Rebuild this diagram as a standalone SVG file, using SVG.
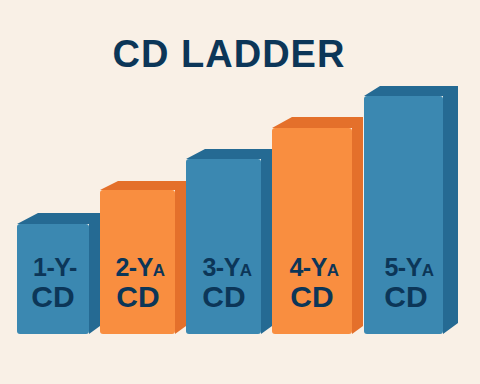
<svg xmlns="http://www.w3.org/2000/svg" width="480" height="384" viewBox="0 0 480 384">
<style>
.bd{fill:#256a93}.bf{fill:#3b88b1}.od{fill:#e4702b}.of{fill:#f98e40}
.t{font-family:"Liberation Sans",Arial,sans-serif;font-weight:bold;fill:#0c3658;text-anchor:middle}
.l1{font-size:25px;letter-spacing:-0.5px}.cd{font-size:30px}.s{font-size:17px}
</style>
<rect width="480" height="384" fill="#f9f0e6"/>
<text class="t" x="229" y="67" style="font-size:38px;letter-spacing:1px">CD LADDER</text>
<g id="bar1">
<polygon class="bd" points="17,224 38,213 100,213 100,326 89,334 89,224"/>
<rect class="bf" x="17" y="224" width="72" height="110" rx="3"/>
<text class="t l1" x="55" y="276">1-Y-</text>
<text class="t cd" x="53" y="307">CD</text>
</g>
<g id="bar2">
<polygon class="od" points="100,190 118,181 186,181 186,326 175,334 175,190"/>
<rect class="of" x="100" y="190" width="75" height="144" rx="3"/>
<text class="t l1" x="140" y="276">2-Y<tspan class="s">A</tspan></text>
<text class="t cd" x="138" y="307">CD</text>
</g>
<g id="bar3">
<polygon class="bd" points="186,159 205,149 272,149 272,326 261,334 261,159"/>
<rect class="bf" x="186" y="159" width="75" height="175" rx="3"/>
<text class="t l1" x="227" y="276">3-Y<tspan class="s">A</tspan></text>
<text class="t cd" x="224" y="307">CD</text>
</g>
<g id="bar4">
<polygon class="od" points="272,128 292,117 363,117 363,326 352,334 352,128"/>
<rect class="of" x="272" y="128" width="80" height="206" rx="3"/>
<text class="t l1" x="314" y="276">4-Y<tspan class="s">A</tspan></text>
<text class="t cd" x="312" y="307">CD</text>
</g>
<g id="bar5">
<polygon class="bd" points="364,96 380,86 458,86 458,323 443,334 443,96"/>
<rect class="bf" x="364" y="96" width="79" height="238" rx="3"/>
<text class="t l1" x="409" y="276">5-Y<tspan class="s">A</tspan></text>
<text class="t cd" x="406" y="307">CD</text>
</g>
</svg>
